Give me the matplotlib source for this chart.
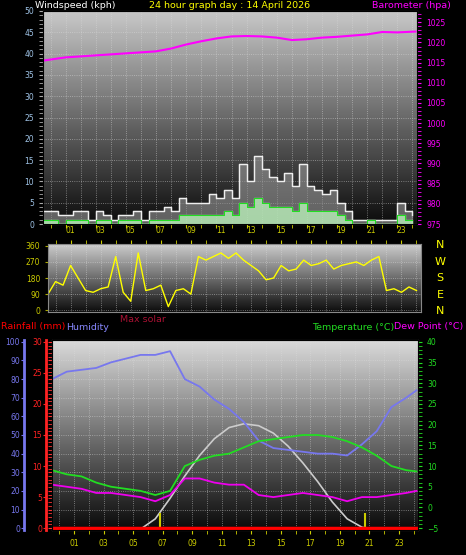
import numpy as np
import matplotlib
matplotlib.use('Agg')
import matplotlib.pyplot as plt
from matplotlib.ticker import MultipleLocator

# ---- data ----
hour_labels = ['01', '03', '05', '07', '09', '11', '13', '15', '17', '19', '21', '23']

baro_hours = [-0.5, 1, 3, 5, 7, 8, 9, 10, 11, 12, 13, 14, 15, 16, 17, 18, 19, 20, 21, 22, 23, 24.2]
baro = [1015.5, 1016.3, 1016.8, 1017.3, 1017.8, 1018.5, 1019.5, 1020.3, 1021.0, 1021.5, 1021.6,
        1021.5, 1021.2, 1020.6, 1020.8, 1021.2, 1021.4, 1021.7, 1022.0, 1022.6, 1022.5, 1022.7]

wind_hours = list(np.arange(-0.5, 24.01, 0.5))
gust = [3, 3, 2, 2, 3, 3, 1, 3, 2, 1, 2, 2, 3, 1, 3, 3, 4, 3, 6, 5, 5, 5, 7, 6, 8, 6, 14, 10, 16,
        13, 11, 10, 12, 9, 14, 9, 8, 7, 8, 5, 3, 1, 1, 1, 1, 1, 1, 5, 3, 2]
avg_wind = [1, 1, 0, 1, 1, 1, 0, 1, 1, 0, 1, 1, 1, 0, 1, 1, 1, 1, 2, 2, 2, 2, 2, 2, 3, 2, 5, 4, 6,
            5, 4, 4, 4, 3, 5, 3, 3, 3, 3, 2, 1, 0, 0, 1, 0, 0, 0, 2, 1, 1]
wind_dir = [90, 160, 140, 250, 180, 110, 100, 120, 130, 300, 100, 50, 320, 110, 120, 140, 20, 110,
            120, 90, 300, 280, 300, 320, 290, 320, 280, 250, 220, 170, 180, 250, 220, 230, 280, 250,
            260, 280, 230, 250, 260, 270, 250, 280, 300, 110, 120, 100, 130, 110]

th_hours = [-0.5, 0.5, 1.5, 2.5, 3.5, 4.5, 5.5, 6.5, 7.5, 8.5, 9.5, 10.5, 11.5, 12.5, 13.5,
            14.5, 15.5, 16.5, 17.5, 18.5, 19.5, 20.5, 21.5, 22.5, 23.5, 24.2]
humidity = [80, 84, 85, 86, 89, 91, 93, 93, 95, 80, 76, 69, 64, 57, 47, 43, 42, 41, 40, 40, 39,
            45, 52, 65, 70, 74]
temperature = [9, 8, 7.5, 6, 5, 4.5, 4, 3, 4, 10, 11.5, 12.5, 13, 14.5, 16, 16.5, 17, 17.5, 17.5,
               17, 16, 14.5, 12.5, 10, 9, 8.7]
dew_point = [5.5, 5, 4.5, 3.5, 3.5, 3, 2.5, 1.5, 3, 7, 7, 6, 5.5, 5.5, 3, 2.5, 3, 3.5, 3, 2.5,
             1.5, 2.5, 2.5, 3, 3.5, 4]
rain = [0] * len(th_hours)

solar_hours = [5.6, 6.5, 7.5, 8.5, 9.5, 10.5, 11.5, 12.5, 13.5, 14.5, 15.5, 16.5, 17.5, 18.5,
               19.5, 20.5, 20.8]
max_solar = [0, 5, 16, 28, 39, 48, 54, 56, 55, 51, 44, 35, 25, 14, 5, 0.5, 0]
sun_marks = [6.8, 20.7]

W, H = 466, 555
fig = plt.figure(figsize=(W / 100, H / 100), dpi=100, facecolor='black')


def px_axes(x0, y0, x1, y1):
    return fig.add_axes([x0 / W, 1 - y1 / H, (x1 - x0) / W, (y1 - y0) / H])


def gradient(ax, top, bottom):
    g = np.linspace(top, bottom, 100).reshape(-1, 1)
    ax.imshow(g, cmap='gray', vmin=0, vmax=1, extent=[0, 1, 0, 1], aspect='auto',
              transform=ax.transAxes, zorder=0, interpolation='bilinear')


def style(ax, xr, labels_bottom=True):
    ax.set_xlim(*xr)
    ax.set_xticks(range(1, 24, 2))
    ax.set_xticks(range(0, 25), minor=True)
    ax.grid(True, which='both', axis='x', color='#dddddd', ls=':', lw=0.6, alpha=0.6)
    ax.grid(True, which='major', axis='y', color='#dddddd', ls=':', lw=0.6, alpha=0.6)
    for s in ax.spines.values():
        s.set_color('#888888')
    if labels_bottom:
        ax.set_xticklabels(hour_labels, color='#cccc00', fontsize=5.5)
    else:
        ax.set_xticklabels([])
    ax.tick_params(axis='x', which='both', colors='#cccc00', length=3)
    ax.tick_params(labelcolor='#cccc00')


xr = (-0.5, 24.3)
tfs = 6.8

# ---- wind / barometer ----
ax1 = px_axes(43, 11, 417, 224)
gradient(ax1, 0.78, 0.05)
style(ax1, xr, labels_bottom=False)
ax1.set_ylim(0, 50)
ax1.yaxis.set_major_locator(MultipleLocator(5))
ax1.yaxis.set_minor_locator(MultipleLocator(1))
ax1.tick_params(axis='y', which='both', colors='#aaaaaa', labelcolor='#9fc3e6', labelsize=5.5, length=3)
ax1.fill_between(wind_hours, gust, step='post', color='#999999', alpha=0.6, zorder=2)
ax1.step(wind_hours, gust, where='post', color='#eeeeee', lw=1, zorder=3)
ax1.fill_between(wind_hours, avg_wind, step='post', color='#bbf0bb', alpha=0.8, zorder=4)
ax1.step(wind_hours, avg_wind, where='post', color='#22dd22', lw=0.8, zorder=5)
axb = ax1.twinx()
axb.set_ylim(975, 1027.8)
axb.yaxis.set_major_locator(MultipleLocator(5))
axb.yaxis.set_minor_locator(MultipleLocator(1))
axb.tick_params(axis='y', which='both', colors='#ff00ff', labelsize=5.5, length=3)
axb.plot(baro_hours, baro, color='#ff00ff', lw=1.5)
fig.text(35 / W, 1 - 6 / H, 'Windspeed (kph)', color='white', fontsize=tfs, va='center')
fig.text(230 / W, 1 - 6 / H, '24 hour graph day : 14 April 2026', color='yellow', fontsize=tfs,
         va='center', ha='center')
fig.text(372 / W, 1 - 6 / H, 'Barometer (hpa)', color='#ff00ff', fontsize=tfs, va='center')

# ---- wind direction ----
ax2 = px_axes(48, 244, 421, 312)
gradient(ax2, 0.8, 0.05)
style(ax2, xr)
ax2.xaxis.tick_top()
ax2.set_xticklabels(hour_labels, color='#cccc00', fontsize=5.5)
ax2.set_ylim(-10, 370)
ax2.set_yticks([0, 90, 180, 270, 360])
ax2.tick_params(axis='y', colors='#aaaa00', labelcolor='#cccc00', labelsize=5.5, length=2)
ax2.plot(wind_hours, wind_dir, color='yellow', lw=1)
for i, d in enumerate(['N', 'W', 'S', 'E', 'N']):
    fig.text(440 / W, 1 - (245 + i * 16.5) / H, d, color='yellow', fontsize=8, ha='center', va='center')

fig.text(1 / W, 1 - 327 / H, 'Rainfall (mm)', color='red', fontsize=tfs, va='center')
fig.text(66 / W, 1 - 327 / H, 'Humidity', color='#8888ff', fontsize=tfs, va='center')
fig.text(120 / W, 1 - 320 / H, 'Max solar', color='#aa1133', fontsize=tfs, va='center')
fig.text(312 / W, 1 - 327 / H, 'Temperature (\u00b0C)', color='#22dd22', fontsize=tfs, va='center')
fig.text(394 / W, 1 - 327 / H, 'Dew Point (\u00b0C)', color='#ff00ff', fontsize=tfs, va='center')

# ---- humidity / rain / temperature ----
ax3 = px_axes(52, 340, 418, 530)
gradient(ax3, 0.85, 0.04)
style(ax3, xr)
ax3.set_ylim(-1, 101)
ax3.yaxis.set_major_locator(MultipleLocator(10))
ax3.yaxis.set_minor_locator(MultipleLocator(2))
ax3.tick_params(axis='y', which='both', colors='#ff3333', labelleft=False, length=3)
ax3.plot(th_hours, humidity, color='#7777ee', lw=1.3, zorder=4)
ax3.plot(solar_hours, max_solar, color='#cccccc', lw=1.2, zorder=3)
ax3.vlines(sun_marks, 0, 8, color='#cccc00', lw=1.5, zorder=3)

axh = fig.add_axes(ax3.get_position())
axh.set_ylim(-1, 101)
axh.patch.set_visible(False)
axh.set_xticks([])
for k in ['top', 'right', 'bottom']:
    axh.spines[k].set_visible(False)
axh.spines['left'].set_position(('outward', 20))
axh.spines['left'].set_color('#7777ee')
axh.spines['left'].set_linewidth(2)
axh.yaxis.set_major_locator(MultipleLocator(10))
axh.tick_params(axis='y', colors='#7777ee', labelsize=5.5, length=2, pad=1)

axr = fig.add_axes(ax3.get_position())
axr.set_ylim(-0.3, 30.3)
axr.patch.set_visible(False)
axr.set_xticks([])
for k in ['top', 'right', 'bottom']:
    axr.spines[k].set_visible(False)
axr.spines['left'].set_position(('outward', 4))
axr.spines['left'].set_color('#ff2222')
axr.spines['left'].set_linewidth(2)
axr.yaxis.set_major_locator(MultipleLocator(5))
axr.tick_params(axis='y', colors='#ff2222', labelsize=5.5, length=2, pad=1)
axr.set_xlim(*xr)
axr.plot(th_hours, rain, color='red', lw=2.5)

axt = ax3.twinx()
axt.set_ylim(-5.45, 40.45)
axt.yaxis.set_major_locator(MultipleLocator(5))
axt.yaxis.set_minor_locator(MultipleLocator(1))
axt.tick_params(axis='y', which='both', colors='#22dd22', labelsize=5.5, length=3)
axt.plot(th_hours, temperature, color='#22dd22', lw=1.3)
axt.plot(th_hours, dew_point, color='#ee00ee', lw=1.3)
axt.set_xlim(*xr)

fig.savefig('out.png', dpi=100, facecolor='black')
